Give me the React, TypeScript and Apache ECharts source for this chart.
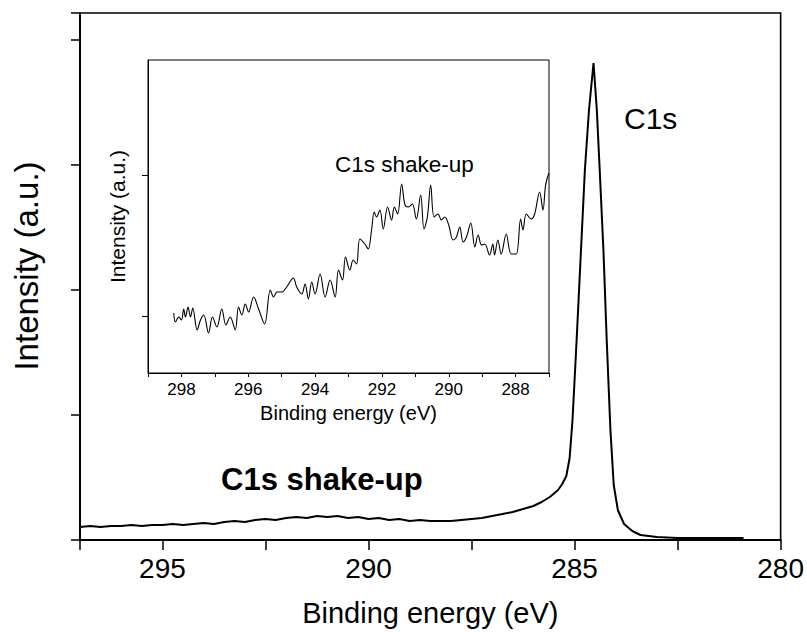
import React, { useEffect, useRef } from "react";
import * as echarts from "echarts";

// Main spectrum: binding energy (eV) and intensity (a.u.)
const mainEnergy = [
  297.0, 296.75, 296.5, 296.25, 296.0, 295.75, 295.5, 295.25, 295.0, 294.75, 294.5, 294.25,
  294.0, 293.75, 293.5, 293.25, 293.0, 292.75, 292.5, 292.25, 292.0, 291.75, 291.5, 291.25,
  291.0, 290.75, 290.5, 290.25, 290.0, 289.75, 289.5, 289.25, 289.0, 288.75, 288.5, 288.25,
  288.0, 287.75, 287.5, 287.25, 287.0, 286.75, 286.5, 286.25, 286.0, 285.8, 285.6, 285.4,
  285.3, 285.2, 285.12, 285.05, 284.95, 284.85, 284.75, 284.65, 284.54, 284.46, 284.39, 284.3,
  284.22, 284.13, 284.05, 283.95, 283.8, 283.6, 283.4, 283.2, 283.0, 282.5, 282.0, 281.5, 280.9,
];
const mainIntensity = [
  13, 14, 13, 14, 14, 15, 14, 15, 15, 16, 15, 16,
  17, 16, 18, 19, 18, 20, 21, 20, 22, 23, 22, 24,
  23, 24, 22, 23, 21, 22, 20, 21, 19, 20, 19, 19,
  19, 20, 21, 22, 24, 26, 28, 31, 34, 38, 43, 50,
  56, 64, 82, 120, 200, 285, 370, 430, 477, 430, 370, 290,
  200, 110, 55, 30, 16, 9, 5, 4, 3, 2, 2, 2, 2,
];

// Inset: shake-up region
const insetEnergy = [
  298.23, 298.18, 298.08, 298.0, 297.93, 297.88, 297.8, 297.73, 297.66, 297.53, 297.43, 297.33,
  297.19, 297.07, 296.94, 296.79, 296.67, 296.54, 296.39, 296.29, 296.19, 296.09, 295.99, 295.84,
  295.69, 295.51, 295.34, 295.24, 295.14, 294.99, 294.85, 294.65, 294.55, 294.4, 294.3, 294.2,
  294.1, 294.0, 293.85, 293.7, 293.55, 293.4, 293.3, 293.18, 293.09, 292.96, 292.86, 292.76,
  292.66, 292.51, 292.41, 292.31, 292.23, 292.16, 292.06, 291.96, 291.83, 291.71, 291.63, 291.53,
  291.41, 291.31, 291.21, 291.09, 290.97, 290.84, 290.74, 290.64, 290.54, 290.44, 290.32, 290.22,
  290.12, 290.0, 289.87, 289.77, 289.67, 289.57, 289.47, 289.34, 289.22, 289.12, 289.02, 288.92,
  288.78, 288.68, 288.63, 288.53, 288.43, 288.28, 288.13, 287.98, 287.85, 287.78, 287.68, 287.53,
  287.43, 287.28, 287.18, 287.11, 287.06, 287.0,
];
const insetIntensity = [
  60, 51, 56, 53, 64, 56, 66, 56, 65, 43, 53, 58,
  40, 56, 46, 64, 48, 56, 43, 66, 58, 69, 61, 76,
  64, 49, 83, 76, 81, 81, 86, 95, 86, 79, 89, 74,
  91, 79, 99, 76, 93, 76, 103, 93, 116, 103, 113, 109,
  134, 129, 124, 143, 161, 156, 163, 144, 166, 153, 166, 159,
  189, 168, 166, 169, 154, 178, 144, 156, 188, 156, 159, 153,
  156, 148, 133, 136, 146, 131, 136, 150, 126, 138, 128, 129,
  118, 129, 118, 133, 119, 139, 119, 119, 154, 143, 159, 154,
  159, 181, 163, 186, 194, 200,
];
const insetTickValues = [57, 198];

const FONT = "'Liberation Sans', Arial, Helvetica, sans-serif";

export default function App() {
  const ref = useRef<HTMLDivElement>(null);
  useEffect(() => {
    if (!ref.current) return;
    const chart = echarts.init(ref.current, undefined, { renderer: "svg" });
    const mainData = mainEnergy.map((e, i) => [e, mainIntensity[i]]);
    const insetData = insetEnergy.map((e, i) => [e, insetIntensity[i]]);
    chart.setOption({
      animation: false,
      backgroundColor: "#fff",
      textStyle: { fontFamily: FONT, color: "#000" },
      grid: [
        { left: 80, right: 26, top: 13, bottom: 92, show: true, borderColor: "#000", borderWidth: 1.6, backgroundColor: "transparent" },
        { left: 148, top: 60, width: 401, height: 313, show: true, borderColor: "#000", borderWidth: 1, backgroundColor: "#fff" },
      ],
      xAxis: [
        {
          type: "value", gridIndex: 0, inverse: true, min: 280, max: 297, interval: 2.5,
          name: "Binding energy (eV)", nameLocation: "middle", nameGap: 58,
          nameTextStyle: { fontSize: 29, color: "#000", fontFamily: FONT },
          axisLine: { show: true, onZero: false, lineStyle: { color: "#000", width: 2 } },
          axisTick: { show: true, inside: false, length: 10, lineStyle: { color: "#000", width: 1.5 } },
          axisLabel: {
            fontSize: 28, color: "#000", margin: 14, fontFamily: FONT,
            formatter: (v: number) => (Math.abs(v % 5) < 1e-6 ? String(v) : ""),
          },
          splitLine: { show: false },
        },
        {
          type: "value", gridIndex: 1, inverse: true, min: 287, max: 299, interval: 1,
          name: "Binding energy (eV)", nameLocation: "middle", nameGap: 30,
          nameTextStyle: { fontSize: 20, color: "#000", fontFamily: FONT },
          axisLine: { show: true, onZero: false, lineStyle: { color: "#000", width: 1 } },
          axisTick: { show: true, inside: false, length: 4, lineStyle: { color: "#000", width: 1 } },
          axisLabel: {
            fontSize: 17, color: "#000", margin: 8, fontFamily: FONT,
            formatter: (v: number) => (Math.round(v) % 2 === 0 && v > 287 && v < 299 ? String(v) : ""),
          },
          splitLine: { show: false },
        },
      ],
      yAxis: [
        {
          type: "value", gridIndex: 0, min: 0, max: 527, interval: 125,
          axisLine: { show: true, onZero: false, lineStyle: { color: "#000", width: 2 } },
          axisTick: { show: true, inside: false, length: 9, lineStyle: { color: "#000", width: 1.5 } },
          axisLabel: { show: false },
          splitLine: { show: false },
        },
        {
          type: "value", gridIndex: 1, min: 0, max: 313,
          name: "Intensity (a.u.)", nameLocation: "middle", nameGap: 20,
          nameTextStyle: { fontSize: 21, color: "#000", fontFamily: FONT },
          axisLine: { show: true, onZero: false, lineStyle: { color: "#000", width: 1 } },
          axisTick: { show: true, inside: false, length: 6, customValues: insetTickValues, lineStyle: { color: "#000", width: 1 } },
          axisLabel: { show: false, customValues: insetTickValues },
          splitLine: { show: false },
        },
      ],
      series: [
        {
          type: "line", xAxisIndex: 0, yAxisIndex: 0, data: mainData, showSymbol: false,
          lineStyle: { color: "#000", width: 2 }, z: 2,
        },
        {
          type: "line", xAxisIndex: 1, yAxisIndex: 1, data: insetData, showSymbol: false, smooth: 0.35,
          lineStyle: { color: "#000", width: 1.1 }, z: 4,
        },
      ],
      graphic: [
        {
          type: "text", x: 26, y: 266, rotation: Math.PI / 2,
          style: { text: "Intensity (a.u.)", font: `33px ${FONT}`, fill: "#000", align: "center", verticalAlign: "middle" }, z: 10,
        },
        { type: "text", left: 624, top: 103, style: { text: "C1s", font: `30px ${FONT}`, fill: "#000" }, z: 10 },
        { type: "text", left: 221, top: 464, style: { text: "C1s shake-up", font: `bold 31px ${FONT}`, fill: "#000" }, z: 10 },
        { type: "text", left: 335, top: 153, style: { text: "C1s shake-up", font: `22.5px ${FONT}`, fill: "#000" }, z: 10 },
      ],
    });
    return () => chart.dispose();
  }, []);
  return <div ref={ref} style={{ width: 807, height: 632, position: "absolute", left: 0, top: 0 }} />;
}
